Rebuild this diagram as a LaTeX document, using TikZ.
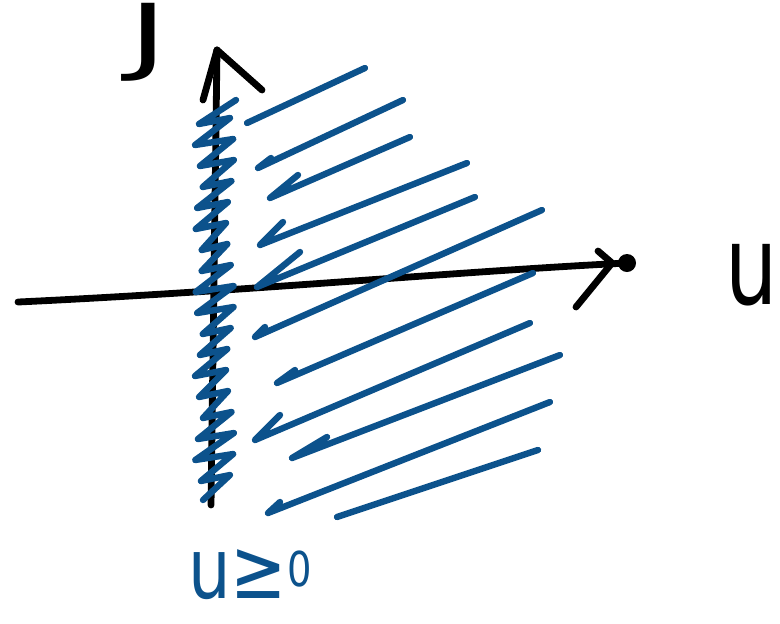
\documentclass[tikz,border=0pt]{standalone}
\usepackage{fontspec}
\setsansfont{DejaVu Sans}
\usetikzlibrary{positioning}

\definecolor{penblue}{RGB}{12,82,140}

\begin{document}
\begin{tikzpicture}[
    x=0.5pt, y=-0.5pt,
    axis line/.style = {line width=3.4pt, black, line cap=round, line join=round},
    hatch line/.style = {line width=3.2pt, penblue, line cap=round, line join=round},
    pen label/.style = {inner sep=0pt, font=\sffamily\fontsize{#1}{#1}\selectfont}
]
\useasboundingbox (0,0) rectangle (780,623);

% axes
\coordinate (uleft) at (18,302);
\coordinate (utip) at (612,263);
\coordinate (uend) at (627,263);
\coordinate (vbottom) at (211,505);
\coordinate (vtip) at (217,50);

\draw[axis line] (uleft) .. controls (250,291) and (450,272) .. (uend);
\draw[axis line] (utip) -- ++(-14,-12);
\draw[axis line] (utip) -- ++(-36,44);
\fill (uend) circle [radius=4.5pt];

\draw[axis line] (vbottom) -- (vtip);
\draw[axis line] (vtip) -- ++(45,40);
\draw[axis line] (vtip) -- ++(-14,50);

% scribble on the v axis
\draw[hatch line] (236,100)
    \foreach \k in {0,...,17} {
        -- ({199-4*sin(97*\k)},{124+21*\k})
        -- ({230+4*sin(53*\k)},{118+21*\k})
    } -- (203,500);

% hatching of the half plane
\foreach \lx/\ly/\rx/\ry/\hx/\hy in {
    247/123/365/68/0/0,
    258/168/403/100/13/-10,
    270/198/410/137/28/-23,
    260/245/467/163/23/-23,
    257/287/475/197/43/-35,
    255/337/542/210/10/-10,
    277/383/533/273/18/-13,
    255/440/530/323/25/-25,
    292/458/560/355/35/-21,
    268/513/550/402/12/-11,
    337/517/538/450/0/0}
    \draw[hatch line] ({\lx+\hx},{\ly+\hy}) -- (\lx,\ly) -- (\rx,\ry);

% labels
\node[pen label=42, xscale=1.6] (vlabel) at (148,42) {J};
\node[pen label=55, xscale=0.75] (ulabel) at (752,274) {u};
\node[pen label=42, xscale=0.8, text=penblue, anchor=base west] (region) at (188,598)
    {u≥\raisebox{6pt}{\fontsize{24}{24}\selectfont 0}};

\end{tikzpicture}
\end{document}
